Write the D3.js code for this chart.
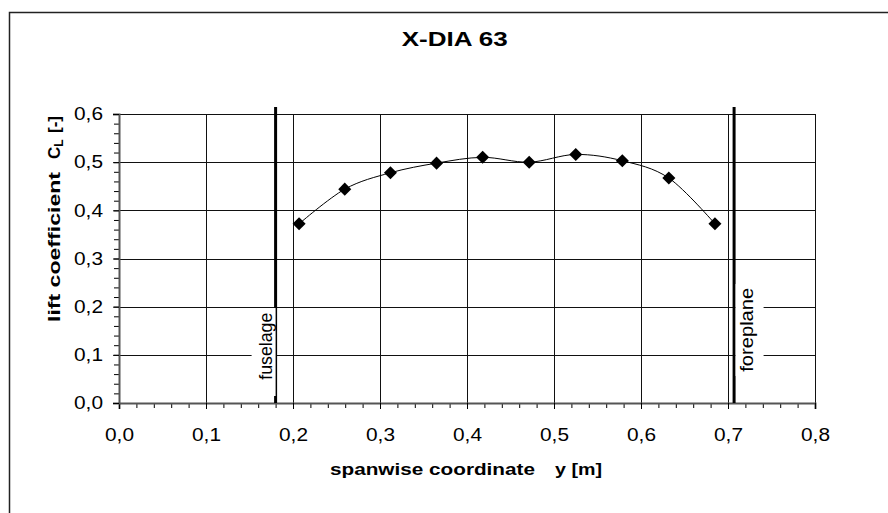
<!DOCTYPE html>
<html>
<head>
<meta charset="utf-8">
<script src="https://cdn.jsdelivr.net/npm/d3@7"></script>
<style>
  body { margin: 0; background: #fff; overflow: hidden; }
  text { font-family: Arial, "Liberation Sans", sans-serif; fill: #000; }
</style>
</head>
<body>
<div class="chart"></div>
<script>
var svgWidth = 888;
var svgHeight = 513;

var margin = {
  top: 114,
  right: 73,
  bottom: 110,
  left: 119
};

var width = svgWidth - margin.left - margin.right;
var height = svgHeight - margin.top - margin.bottom;

// data
var spanPos = [0.207, 0.2595, 0.312, 0.365, 0.418, 0.4715, 0.525, 0.5785, 0.632, 0.685];
var liftCoef = [0.372, 0.444, 0.478, 0.498, 0.510, 0.500, 0.516, 0.503, 0.467, 0.372];
var xTicks = [0, 0.1, 0.2, 0.3, 0.4, 0.5, 0.6, 0.7, 0.8];
var yTicks = [0, 0.1, 0.2, 0.3, 0.4, 0.5, 0.6];
var markerNames = ["fuselage", "foreplane"];
var markerPos = [0.18, 0.707];

var svg = d3.select(".chart")
  .append("svg")
  .style("display", "block")
  .attr("width", svgWidth)
  .attr("height", svgHeight);

// outer frame, runs off the right and bottom edge
svg.append("rect")
  .attr("x", 9.5)
  .attr("y", 12.5)
  .attr("width", 1000)
  .attr("height", 600)
  .attr("fill", "none")
  .attr("stroke", "#222")
  .attr("stroke-width", 1.5);

svg.append("text")
  .attr("x", 454.7)
  .attr("y", 46)
  .attr("text-anchor", "middle")
  .attr("font-size", 20)
  .attr("font-weight", "bold")
  .attr("textLength", 106)
  .attr("lengthAdjust", "spacingAndGlyphs")
  .text("X-DIA 63");

var chartGroup = svg.append("g")
  .attr("transform", `translate(${margin.left}, ${margin.top})`);

var xScale = d3.scaleLinear().domain([0, 0.8]).range([0, width]);
var yScale = d3.scaleLinear().domain([0, 0.6]).range([height, 0]);

var fmt = d => d3.format(".1f")(d).replace(".", ",");

// grid
chartGroup.append("g")
  .selectAll("line")
  .data(xTicks.slice(1))
  .enter()
  .append("line")
  .attr("x1", d => Math.round(xScale(d)) + 0.5)
  .attr("x2", d => Math.round(xScale(d)) + 0.5)
  .attr("y1", 0)
  .attr("y2", height)
  .attr("stroke", "#111")
  .attr("stroke-width", 1);

chartGroup.append("g")
  .selectAll("line")
  .data(yTicks.slice(1))
  .enter()
  .append("line")
  .attr("x1", 0)
  .attr("x2", width)
  .attr("y1", d => Math.round(yScale(d)) + 0.5)
  .attr("y2", d => Math.round(yScale(d)) + 0.5)
  .attr("stroke", "#111")
  .attr("stroke-width", 1);

// minor ticks
chartGroup.append("g")
  .attr("transform", `translate(0, ${height})`)
  .call(d3.axisBottom(xScale).tickValues(d3.range(0, 0.801, 0.02)).tickSize(5).tickFormat(""))
  .call(g => g.select(".domain").remove());

chartGroup.append("g")
  .call(d3.axisLeft(yScale).tickValues(d3.range(0, 0.601, 0.02)).tickSize(5).tickFormat(""))
  .call(g => g.select(".domain").remove());

// main axes
var xAxis = chartGroup.append("g")
  .attr("transform", `translate(0, ${height})`)
  .call(d3.axisBottom(xScale).tickValues(xTicks).tickSize(6).tickPadding(19).tickFormat(fmt));

var yAxis = chartGroup.append("g")
  .call(d3.axisLeft(yScale).tickValues(yTicks).tickSize(6).tickPadding(10).tickFormat(fmt));

[xAxis, yAxis].forEach(function(ax) {
  ax.select(".domain").attr("stroke", "#555").attr("stroke-width", 2);
  ax.selectAll("text")
    .attr("font-size", 18)
    .attr("font-family", "Arial, 'Liberation Sans', sans-serif")
    .attr("fill", "#000")
    .attr("textLength", 29)
    .attr("lengthAdjust", "spacingAndGlyphs");
});

// fuselage / foreplane lines
chartGroup.selectAll(".marker")
  .data(markerPos)
  .enter()
  .append("line")
  .attr("class", "marker")
  .attr("x1", d => xScale(d))
  .attr("x2", d => xScale(d))
  .attr("y1", -7)
  .attr("y2", height)
  .attr("stroke", "#000")
  .attr("stroke-width", 3);

// white boxes behind the labels
var boxes = [
  {x: xScale(markerPos[0]) - 24, y: 194, w: 24, h: 88},
  {x: xScale(markerPos[1]) + 1.5, y: 170, w: 28, h: 92}
];
chartGroup.selectAll(".lbox")
  .data(boxes)
  .enter()
  .append("rect")
  .attr("class", "lbox")
  .attr("x", d => d.x)
  .attr("y", d => d.y)
  .attr("width", d => d.w)
  .attr("height", d => d.h)
  .attr("fill", "#fff");

var labelInfo = [
  {x: xScale(markerPos[0]) - 4, y: yScale(0.118), len: 67},
  {x: xScale(markerPos[1]) + 19, y: yScale(0.152), len: 84}
];
chartGroup.selectAll(".mlabel")
  .data(markerNames)
  .enter()
  .append("text")
  .attr("class", "mlabel")
  .attr("transform", (d, i) => `translate(${labelInfo[i].x}, ${labelInfo[i].y}) rotate(-90)`)
  .attr("text-anchor", "middle")
  .attr("font-size", 18)
  .attr("textLength", (d, i) => labelInfo[i].len)
  .attr("lengthAdjust", "spacingAndGlyphs")
  .text(d => d);

// curve and points
var line = d3.line()
  .x(d => xScale(d[0]))
  .y(d => yScale(d[1]))
  .curve(d3.curveCardinal.tension(0));

var pts = spanPos.map((d, i) => [d, liftCoef[i]]);

chartGroup.append("path")
  .datum(pts)
  .attr("d", line)
  .attr("fill", "none")
  .attr("stroke", "#000")
  .attr("stroke-width", 1);

chartGroup.selectAll(".pt")
  .data(pts)
  .enter()
  .append("path")
  .attr("class", "pt")
  .attr("d", d3.symbol(d3.symbolSquare, 85))
  .attr("transform", d => `translate(${xScale(d[0])}, ${yScale(d[1])}) rotate(45)`)
  .attr("fill", "#000");

// axis titles
svg.append("text")
  .attr("x", 330)
  .attr("y", 475)
  .attr("font-size", 17)
  .attr("font-weight", "bold")
  .attr("textLength", 205)
  .attr("lengthAdjust", "spacingAndGlyphs")
  .text("spanwise coordinate");

svg.append("text")
  .attr("x", 555)
  .attr("y", 475)
  .attr("font-size", 17)
  .attr("font-weight", "bold")
  .attr("textLength", 47)
  .attr("lengthAdjust", "spacingAndGlyphs")
  .text("y [m]");

var yTitle = svg.append("g")
  .attr("transform", "translate(60, 322) rotate(-90)");

yTitle.append("text")
  .attr("x", 0)
  .attr("y", 0)
  .attr("font-size", 17)
  .attr("font-weight", "bold")
  .attr("textLength", 150)
  .attr("lengthAdjust", "spacingAndGlyphs")
  .text("lift coefficient");

var cl = yTitle.append("text")
  .attr("x", 163)
  .attr("y", 0)
  .attr("font-size", 17)
  .attr("font-weight", "bold");
cl.append("tspan").text("C");
cl.append("tspan").attr("font-size", 12).attr("dy", 3).text("L");

yTitle.append("text")
  .attr("x", 189)
  .attr("y", 0)
  .attr("font-size", 17)
  .attr("font-weight", "bold")
  .attr("textLength", 17)
  .attr("lengthAdjust", "spacingAndGlyphs")
  .text("[-]");
</script>
</body>
</html>
